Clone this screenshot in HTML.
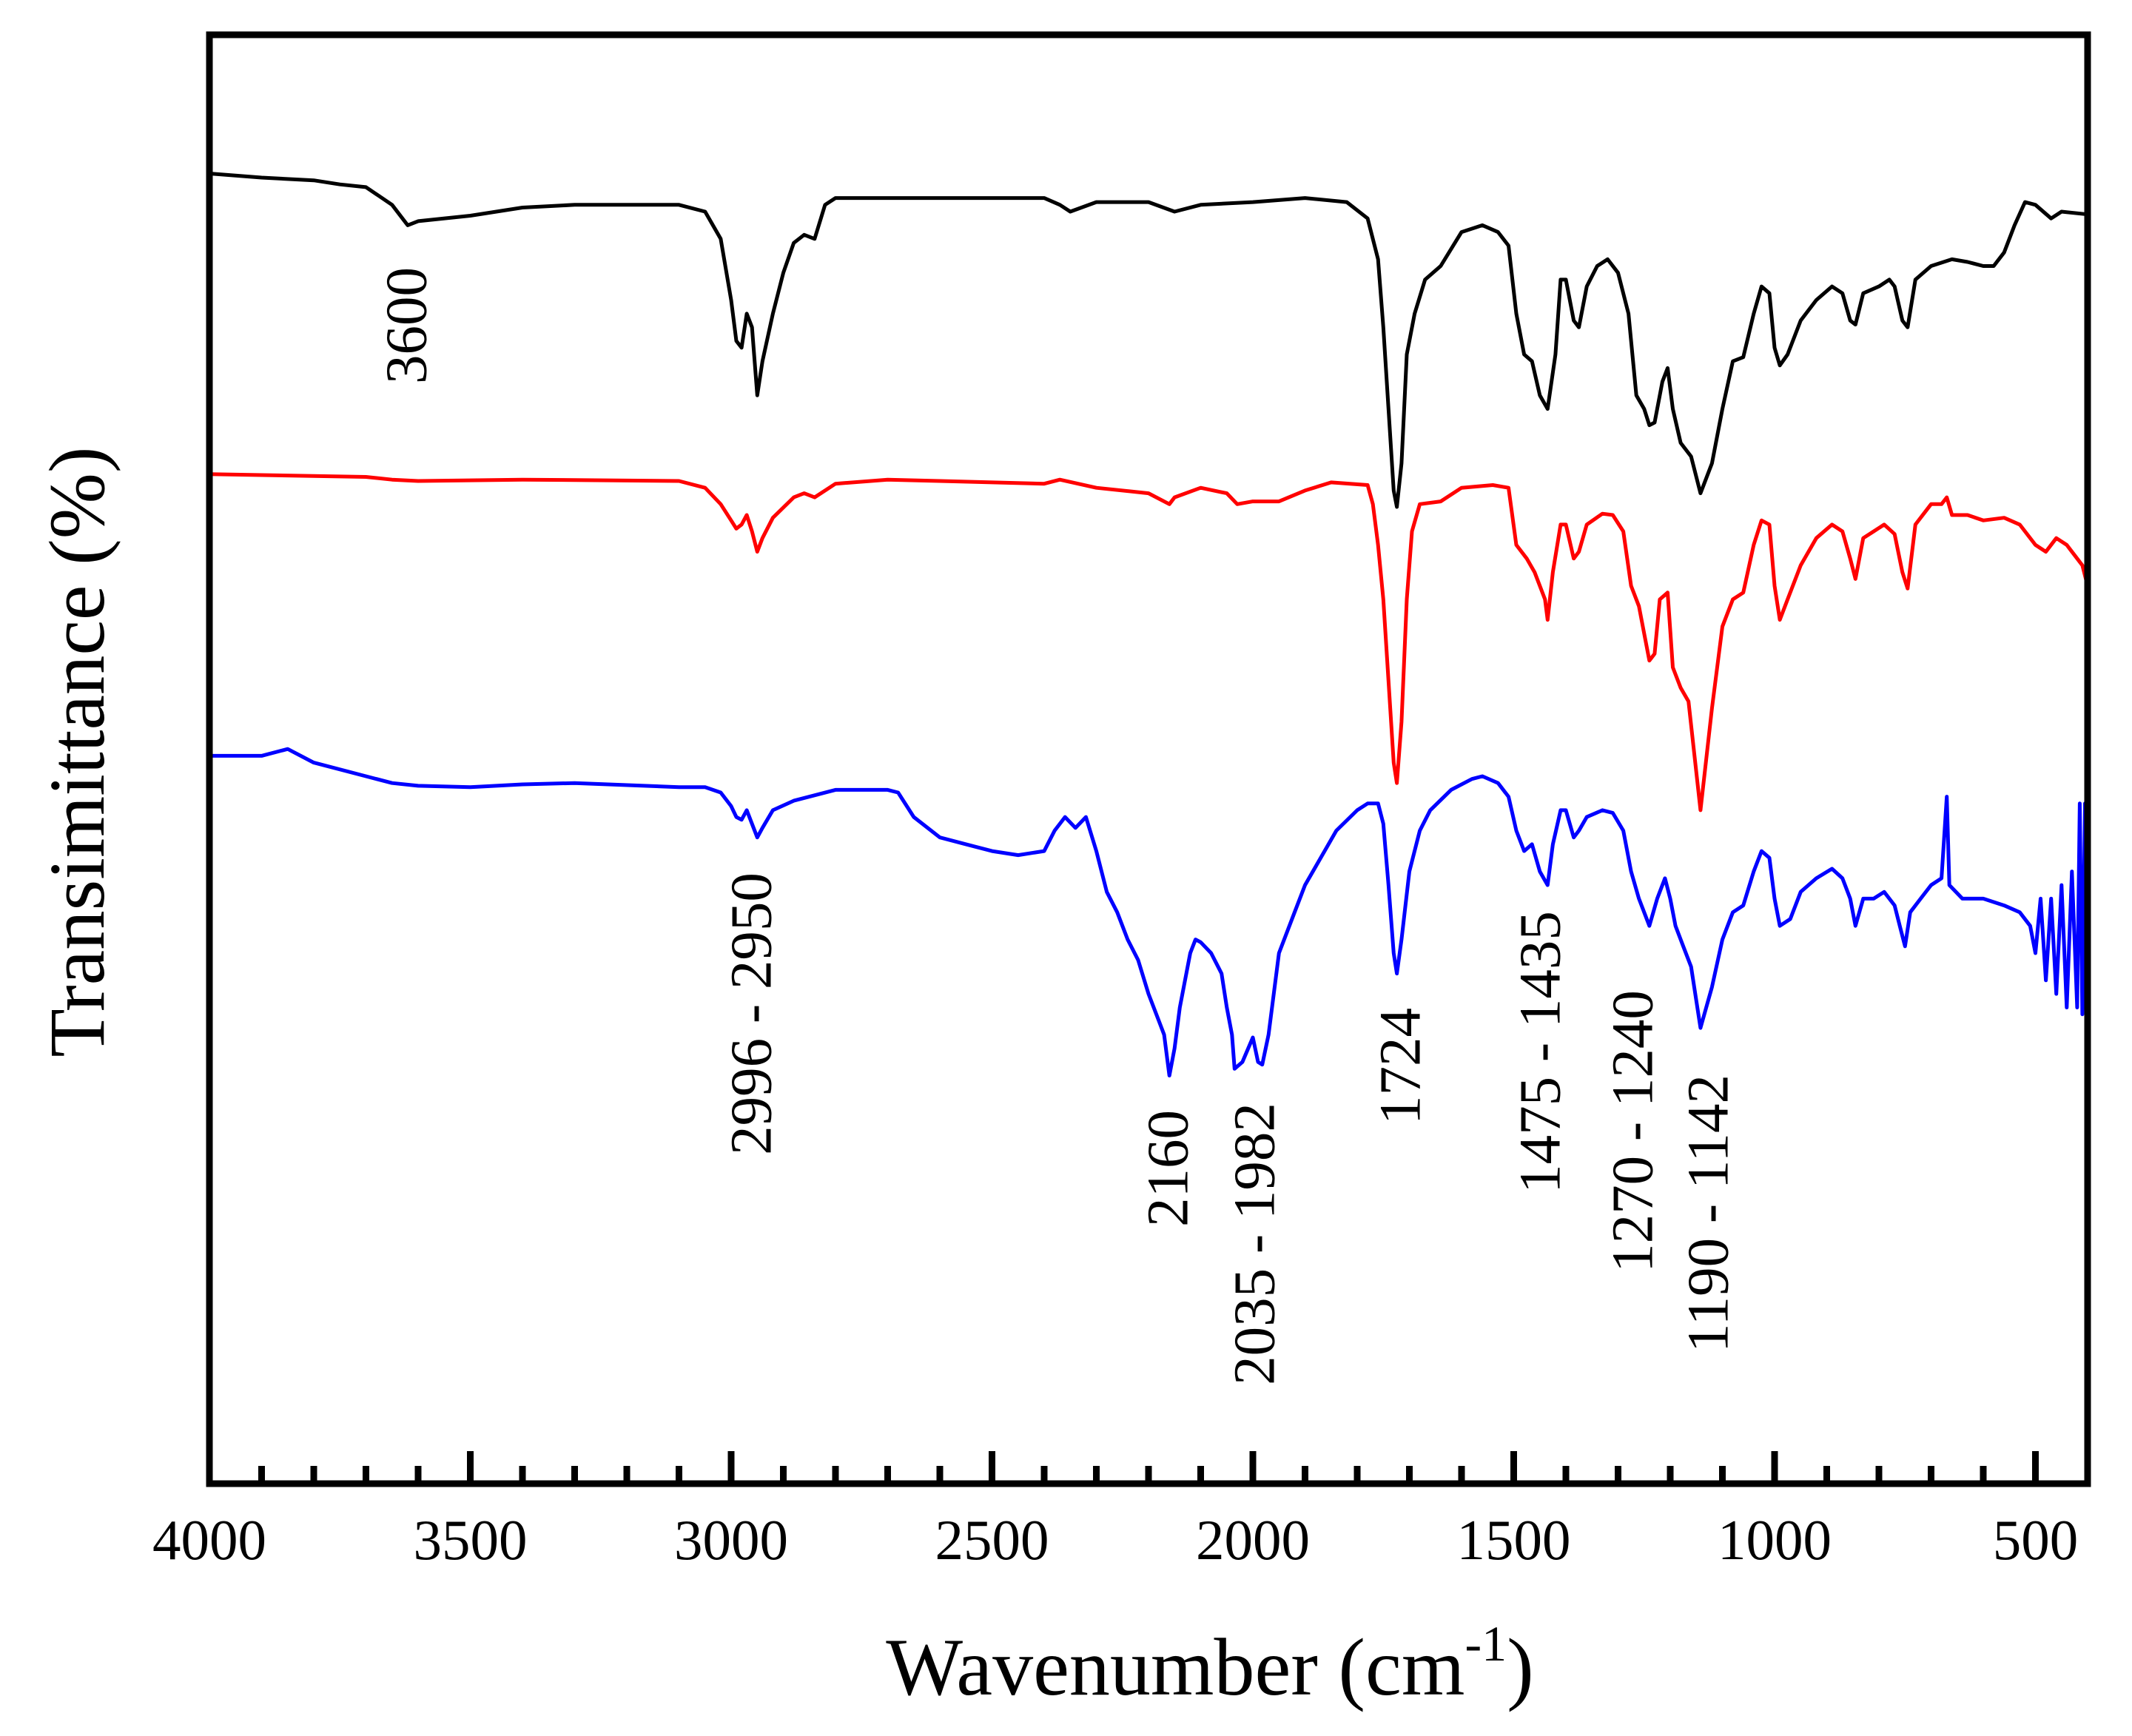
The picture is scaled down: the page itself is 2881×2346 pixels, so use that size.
<!DOCTYPE html>
<html><head><meta charset="utf-8"><style>
html,body{margin:0;padding:0;background:#fff;}
svg{display:block;font-family:"Liberation Serif","Times New Roman",serif;}
</style></head><body>
<svg id="chart" width="2881" height="2346" viewBox="0 0 2881 2346" xmlns="http://www.w3.org/2000/svg">
<g id="series"></g>
<g id="axes"></g>
<g id="annots"></g>
<text x="1635" y="2290" font-size="110" text-anchor="middle">Wavenumber (cm<tspan font-size="68" dy="-46">-1</tspan><tspan dy="46">)</tspan></text>
<text transform="translate(105,1016) rotate(-90)" font-size="107" text-anchor="middle" dominant-baseline="central">Transimittance (%)</text>
</svg>
<script>
const tickLabels = [4000, 3500, 3000, 2500, 2000, 1500, 1000, 500];
const blackWn = [4000,3900,3800,3750,3700,3650,3620,3600,3500,3400,3300,3200,3100,3050,3020,3000,2990,2980,2970,2960,2950,2940,2920,2900,2880,2860,2840,2820,2800,2700,2600,2500,2400,2370,2350,2300,2200,2150,2100,2000,1900,1820,1780,1760,1750,1740,1730,1724,1715,1705,1690,1670,1640,1600,1560,1530,1510,1495,1480,1465,1450,1435,1420,1410,1400,1385,1375,1360,1340,1320,1300,1280,1265,1250,1240,1230,1215,1205,1195,1180,1160,1142,1120,1100,1080,1060,1040,1025,1010,1000,990,975,950,920,890,870,855,845,830,800,780,770,755,745,730,700,660,630,600,580,560,540,520,500,470,450,400];
const blackVal = [96.3,96.0,95.8,95.5,95.3,94.0,92.5,92.8,93.2,93.8,94.0,94.0,94.0,93.5,91.5,87.0,84.0,83.5,86.0,85.0,80.0,82.5,86.0,89.0,91.2,91.8,91.5,94.0,94.5,94.5,94.5,94.5,94.5,94.0,93.5,94.2,94.2,93.5,94.0,94.2,94.5,94.2,93.0,90.0,85.0,79.0,73.0,71.8,75.0,83.0,86.0,88.5,89.5,92.0,92.5,92.0,91.0,86.0,83.0,82.5,80.0,79.0,83.0,88.5,88.5,85.5,85.0,88.0,89.5,90.0,89.0,86.0,80.0,79.0,77.8,78.0,81.0,82.0,79.0,76.5,75.5,72.8,75.0,79.0,82.5,82.8,86.0,88.0,87.5,83.5,82.2,83.0,85.5,87.0,88.0,87.5,85.5,85.2,87.5,88.0,88.5,88.0,85.5,85.0,88.5,89.5,90.0,89.8,89.5,89.5,90.5,92.5,94.2,94.0,93.0,93.5,93.3];
const redWn = [4000,3700,3650,3600,3400,3100,3050,3020,3000,2990,2980,2970,2960,2950,2940,2920,2880,2860,2840,2800,2700,2600,2400,2370,2300,2200,2160,2150,2100,2050,2030,2000,1950,1900,1850,1780,1770,1760,1750,1740,1730,1724,1715,1705,1695,1680,1640,1600,1540,1510,1495,1475,1460,1440,1435,1425,1410,1400,1385,1375,1360,1330,1310,1290,1275,1260,1240,1230,1220,1205,1195,1180,1165,1142,1120,1100,1080,1060,1040,1025,1010,1000,990,975,950,920,890,870,855,845,830,810,790,770,755,745,730,700,680,670,660,630,600,560,530,500,480,460,440,420,410,400];
const redVal = [74.2,74.0,73.8,73.7,73.8,73.7,73.2,72.0,70.8,70.2,70.5,71.2,70.0,68.5,69.5,71.0,72.5,72.8,72.5,73.5,73.8,73.7,73.5,73.8,73.2,72.8,72.0,72.5,73.2,72.8,72.0,72.2,72.2,73.0,73.6,73.4,72.0,69.0,65.0,59.0,53.0,51.5,56.0,65.0,70.0,72.0,72.2,73.2,73.4,73.2,69.0,68.0,67.0,65.0,63.5,67.0,70.5,70.5,68.0,68.5,70.5,71.3,71.2,70.0,66.0,64.5,60.5,61.0,65.0,65.5,60.0,58.5,57.5,49.5,57.0,63.0,65.0,65.5,69.0,70.8,70.5,66.0,63.5,65.0,67.5,69.5,70.5,70.0,68.0,66.5,69.5,70.0,70.5,69.8,67.0,65.8,70.5,72.0,72.0,72.5,71.2,71.2,70.8,71.0,70.5,69.0,68.5,69.5,69.0,68.0,67.5,66.0];
const blueWn = [4000,3900,3850,3800,3700,3650,3600,3500,3400,3300,3100,3050,3020,3000,2990,2980,2970,2960,2950,2940,2920,2880,2850,2800,2700,2680,2650,2600,2550,2500,2450,2400,2380,2360,2340,2320,2300,2280,2260,2240,2220,2200,2180,2170,2160,2150,2140,2120,2110,2100,2080,2060,2050,2040,2035,2020,2000,1990,1982,1970,1950,1920,1900,1870,1840,1800,1780,1760,1750,1740,1730,1724,1715,1700,1680,1660,1620,1580,1560,1530,1510,1495,1480,1465,1450,1435,1425,1410,1400,1385,1375,1360,1330,1310,1290,1275,1260,1240,1225,1210,1200,1190,1175,1160,1142,1120,1100,1080,1060,1040,1025,1010,1000,990,970,950,920,890,870,855,845,830,810,790,770,760,750,740,720,700,680,670,665,640,600,560,530,510,500,490,480,470,460,450,440,430,420,415,410,405,400];
const blueVal = [53.5,53.5,54.0,53.0,52.0,51.5,51.3,51.2,51.4,51.5,51.2,51.2,50.8,49.8,49.0,48.8,49.5,48.5,47.5,48.2,49.5,50.2,50.5,51.0,51.0,50.8,49.0,47.5,47.0,46.5,46.2,46.5,48.0,49.0,48.2,49.0,46.5,43.5,42.0,40.0,38.5,36.0,34.0,33.0,30.0,32.0,35.0,39.0,40.0,39.8,39.0,37.5,35.0,33.0,30.5,31.0,32.8,31.0,30.8,33.0,39.0,42.0,44.0,46.0,48.0,49.5,50.0,50.0,48.5,44.0,39.0,37.5,40.0,45.0,48.0,49.5,51.0,51.8,52.0,51.5,50.5,48.0,46.5,47.0,45.0,44.0,47.0,49.5,49.5,47.5,48.0,49.0,49.5,49.3,48.0,45.0,43.0,41.0,43.0,44.5,43.0,41.0,39.5,38.0,33.5,36.5,40.0,42.0,42.5,45.0,46.5,46.0,43.0,41.0,41.5,43.5,44.5,45.2,44.5,43.0,41.0,43.0,43.0,43.5,42.5,41.0,39.5,42.0,43.0,44.0,44.5,50.5,44.0,43.0,43.0,42.5,42.0,41.0,39.0,43.0,37.0,43.0,36.0,44.0,35.0,45.0,35.0,50.0,34.5,50.0,34.5];

const NS = "http://www.w3.org/2000/svg";
const X0 = 283, X1 = 2821, Y0 = 47, Y1 = 2005;
const xMin = 400, xMax = 4000, yMin = 0, yMax = 106.5;
function xs(w){ return X0 + (xMax - w) / (xMax - xMin) * (X1 - X0); }
function ys(v){ return Y1 - (v - yMin) / (yMax - yMin) * (Y1 - Y0); }
function mk(tag, attrs, parent){ const e = document.createElementNS(NS, tag); for (const k in attrs) e.setAttribute(k, attrs[k]); parent.appendChild(e); return e; }

const sg = document.getElementById('series');
function drawSeries(wn, val, color, name){
  let d = '';
  for (let i = 0; i < wn.length; i++) d += (i ? 'L' : 'M') + xs(wn[i]).toFixed(1) + ',' + ys(val[i]).toFixed(1);
  const p = mk('path', {d: d, fill: 'none', stroke: color, 'stroke-width': 5, 'stroke-linejoin': 'round'}, sg);
  
  
}
drawSeries(blackWn, blackVal, '#000000', 'black-spectrum-line');
drawSeries(redWn, redVal, '#ff0000', 'red-spectrum-line');
drawSeries(blueWn, blueVal, '#0000ff', 'blue-spectrum-line');

const ag = document.getElementById('axes');
const frame = mk('rect', {x: X0, y: Y0, width: X1 - X0, height: Y1 - Y0, fill: 'none', stroke: '#000', 'stroke-width': 9}, ag);


for (let w = 3900; w > 400; w -= 100) {
  const major = w % 500 === 0;
  const t = mk('line', {x1: xs(w), x2: xs(w), y1: Y1, y2: Y1 - (major ? 44 : 24), stroke: '#000', 'stroke-width': 9}, ag);
  
  
}
tickLabels.forEach(v => {
  const t = mk('text', {x: xs(v), y: 2107, 'font-size': 77, 'text-anchor': 'middle'}, ag);
  
  
  t.textContent = v;
});

const annots = [
  ['3600', 550, 440], ['2996 - 2950', 1016, 1370], ['2160', 1579, 1579], ['2035 - 1982', 1696, 1681],
  ['1724', 1893, 1441], ['1475 - 1435', 2082, 1422], ['1270 - 1240', 2207, 1529], ['1190 - 1142', 2309, 1640]
];
const ng = document.getElementById('annots');
annots.forEach(a => {
  const t = mk('text', {transform: 'translate(' + a[1] + ',' + a[2] + ') rotate(-90)', 'font-size': 79, 'text-anchor': 'middle', 'dominant-baseline': 'central'}, ng);
  
  
  t.textContent = a[0];
});
</script>
</body></html>
